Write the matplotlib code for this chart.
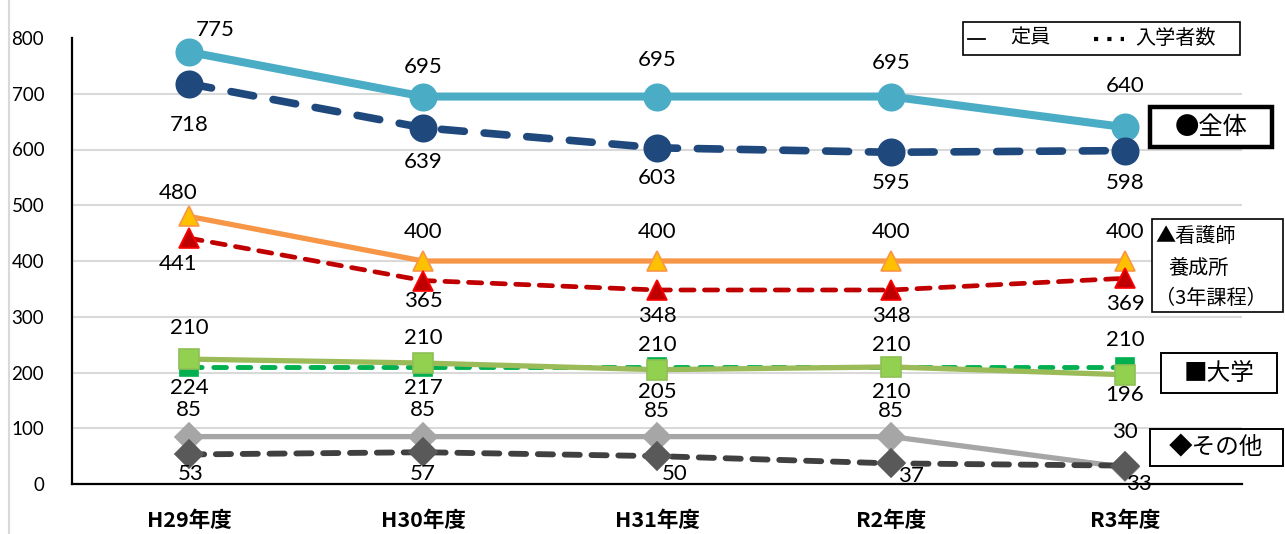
import matplotlib
matplotlib.use("Agg")
import matplotlib.pyplot as plt
from matplotlib.patches import Rectangle
from matplotlib.lines import Line2D

# ---- data ----
categories = ['H29年度', 'H30年度', 'H31年度', 'R2年度', 'R3年度']
total_capacity = [775, 695, 695, 695, 640]
total_enrolled = [718, 639, 603, 595, 598]
nurse_capacity = [480, 400, 400, 400, 400]
nurse_enrolled = [441, 365, 348, 348, 369]
univ_capacity = [210, 210, 210, 210, 210]
univ_enrolled = [224, 217, 205, 210, 196]
other_capacity = [85, 85, 85, 85, 30]
other_enrolled = [53, 57, 50, 37, 33]

CJK = ['Noto Sans CJK JP', 'DejaVu Sans']
NUM = ['Lato', 'DejaVu Sans']

W, H, DPI = 1285, 534, 100
fig = plt.figure(figsize=(W / DPI, H / DPI), dpi=DPI)
fig.patch.set_facecolor('white')

x0, x1, y0, y1 = 72, 1242, 38, 484
ax = fig.add_axes([x0 / W, 1 - y1 / H, (x1 - x0) / W, (y1 - y0) / H])
x = list(range(len(categories)))

ax.set_xlim(-0.5, len(categories) - 0.5)
ax.set_ylim(0, 800)
ax.set_yticks(range(0, 801, 100))
ax.set_xticks(x)
ax.set_xticklabels(categories, fontfamily=CJK, fontweight='bold', fontsize=15.5)
ax.tick_params(axis='x', length=0, pad=19)
ax.tick_params(axis='y', length=0, pad=20, labelsize=13.5)
for lab in ax.get_yticklabels():
    lab.set_fontfamily(NUM)
ax.yaxis.grid(True, color='#d9d9d9', lw=1.5)
ax.set_axisbelow(True)
gl = ax.yaxis.get_gridlines()
gl[-1].set_visible(False)
for s in ('top', 'right'):
    ax.spines[s].set_visible(False)
for s in ('left', 'bottom'):
    ax.spines[s].set_linewidth(1.6)
    ax.spines[s].set_color('black')


def series(vals, color, lw, marker, ms, mfc, mec, dashes=None, z=3):
    kw = dict(color=color, lw=lw, marker=marker, ms=ms, mfc=mfc, mec=mec,
              mew=1.2, zorder=z, solid_capstyle='round')
    if dashes is not None:
        kw.update(ls=(0, dashes), dash_capstyle='round')
    ax.plot(x, vals, **kw)


def labels(vals, offsets, size=16):
    for i, (v, (dx, dy)) in enumerate(zip(vals, offsets)):
        ax.annotate(str(v), (i, v), xytext=(dx, dy), textcoords='offset pixels',
                    ha='center', va='center', fontsize=size, fontfamily=NUM,
                    color='black', zorder=10, annotation_clip=False)


# 全体
series(total_capacity, '#4bacc6', 5.8, 'o', 19, '#4bacc6', '#4bacc6', z=3)
series(total_enrolled, '#1f497d', 5.5, 'o', 19, '#1f497d', '#1f497d',
       dashes=(3.0, 2.6), z=4)
# 看護師養成所
series(nurse_capacity, '#f79646', 3.8, '^', 15, '#ffc000', '#f79646', z=3)
series(nurse_enrolled, '#c00000', 3.4, '^', 15, '#c00000', '#ff0000',
       dashes=(2.8, 2.2), z=4)
# 大学
series(univ_capacity, '#00b050', 3.5, 's', 13, '#00b050', '#00b050',
       dashes=(2.6, 2.4), z=3)
series(univ_enrolled, '#9bbb59', 3.8, 's', 15, '#92d050', '#8fbf55', z=4)
# その他
series(other_capacity, '#a6a6a6', 3.8, 'D', 14, '#a6a6a6', '#a6a6a6', z=3)
series(other_enrolled, '#404040', 4.2, 'D', 14, '#595959', '#595959',
       dashes=(2.6, 2.0), z=4)

labels(total_capacity, [(26, 22), (0, 30), (0, 37), (0, 34), (0, 41)])
labels(total_enrolled, [(0, -41), (0, -34), (0, -30), (0, -31), (0, -32)])
labels(nurse_capacity, [(-11, 23), (0, 29), (0, 29), (0, 29), (0, 29)])
labels(nurse_enrolled, [(-11, -26), (0, -20), (0, -26), (0, -26), (0, -26)])
labels(univ_capacity, [(0, 39), (0, 29), (0, 22), (0, 22), (0, 27)])
labels(univ_enrolled, [(0, -29), (0, -25), (0, -22), (0, -25), (0, -20)])
labels(other_capacity, [(0, 27), (0, 27), (0, 26), (0, 26), (0, 35)])
labels(other_enrolled, [(2, -20), (0, -22), (18, -18), (20, -13), (14, -18)])


# ---- boxed annotations (figure pixel coordinates) ----
def fx(px):
    return px / W


def fy(py):
    return 1 - py / H


def box(l, t, r, b, lw):
    fig.add_artist(Rectangle((fx(l), fy(b)), fx(r) - fx(l), fy(t) - fy(b),
                             transform=fig.transFigure, fill=True,
                             facecolor='white', edgecolor='black', lw=lw,
                             zorder=20))


def ftext(px, py, s, size, ha='center'):
    fig.text(fx(px), fy(py), s, ha=ha, va='center', fontsize=size,
             fontfamily=CJK, color='black', zorder=21)


def fline(xa, xb, py, lw, dashes=None):
    kw = dict(transform=fig.transFigure, color='black', lw=lw, zorder=21)
    if dashes is not None:
        kw['ls'] = (0, dashes)
    fig.add_artist(Line2D([fx(xa), fx(xb)], [fy(py), fy(py)], **kw))


# legend box
box(963, 22, 1240, 55, 1.2)
fline(968, 985, 39, 1.3)
ftext(1010, 38, '定員', 14.5, ha='left')
fline(1094, 1124, 39, 3.0, dashes=(1.0, 2.2))
ftext(1135, 38, '入学者数', 14.5, ha='left')

box(1150, 107, 1272, 147, 3.2)
ftext(1211, 127, '●全体', 17.5)

box(1152, 219, 1283, 312, 1.2)
ftext(1155, 237, '▲看護師', 14.5, ha='left')
ftext(1168, 268, '養成所', 14.5, ha='left')
ftext(1155, 298, '（3年課程）', 14.5, ha='left')

box(1161, 353, 1277, 393, 1.4)
ftext(1219, 373, '■大学', 17)

box(1150, 429, 1283, 466, 1.4)
ftext(1216, 448, '◆その他', 17)

# faint frame line at the left edge
fig.add_artist(Line2D([fx(9), fx(9)], [0, 1], transform=fig.transFigure,
                      color='#d9d9d9', lw=1.5))

fig.savefig('out.png', dpi=DPI, facecolor='white')
